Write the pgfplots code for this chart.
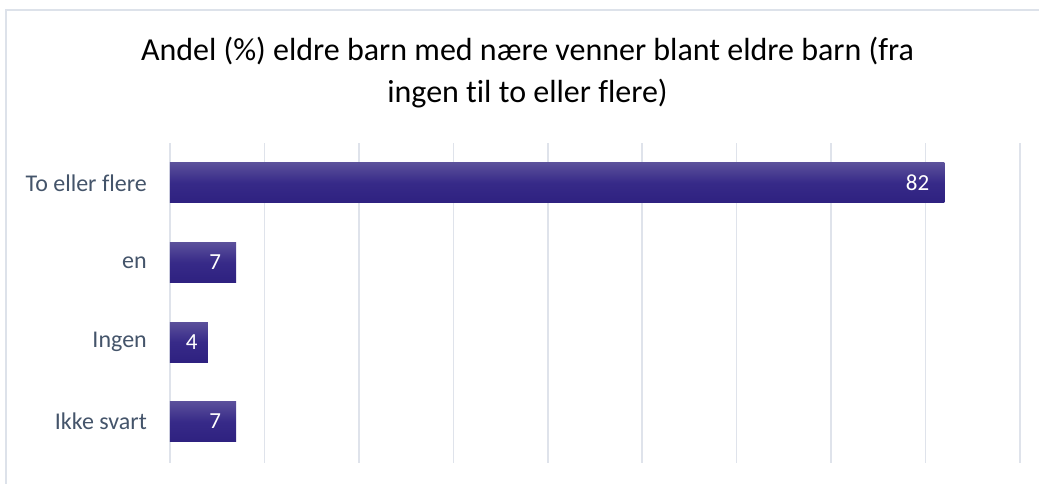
\documentclass[border=0pt]{standalone}
\usepackage{pgfplots}
\pgfplotsset{compat=1.18}
\usepackage{fontspec}
\setmainfont[Ligatures=NoCommon]{Carlito}
\definecolor{barTop}{HTML}{5B509B}
\definecolor{barMid}{HTML}{372A88}
\definecolor{barBot}{HTML}{2E2180}
\definecolor{gridc}{HTML}{DFE3EB}
\definecolor{labc}{HTML}{44546A}
\definecolor{borderc}{HTML}{DDE2EA}
\begin{document}
\begin{tikzpicture}[x=1pt,y=1pt]
\useasboundingbox (0,0) rectangle (1039,483);
\draw[borderc, line width=1.5pt] (6,-10) |- (1060,473);
\node[anchor=base, font=\fontsize{32}{38}\selectfont, text=black, inner sep=0pt] at (527.5,422) {Andel (\%) eldre barn med nære venner blant eldre barn (fra};
\node[anchor=base, font=\fontsize{32}{38}\selectfont, text=black, inner sep=0pt] at (527.5,380) {ingen til to eller flere)};
\begin{axis}[
  at={(170pt,20pt)}, anchor=south west,
  scale only axis,
  width=850pt, height=320pt,
  xmin=0, xmax=90,
  ymin=-0.5, ymax=3.52,
  y dir=reverse,
  xtick={0,10,...,90},
  xticklabels={},
  ytick={0,1,2,3},
  yticklabels={To eller flere, en, Ingen, Ikke svart},
  yticklabel style={inner sep=0pt, anchor=east, xshift=-23pt, text=labc, font=\fontsize{24}{28}\selectfont},
  xmajorgrids,
  grid style={gridc, line width=1.5pt},
  axis line style={draw=none},
  major tick length=0pt,
  clip=false,
  xbar,
  bar width=40pt,
  bar shift=0pt,
  nodes near coords,
  /pgf/number format/assume math mode=true,
  every node near coord/.append style={anchor=east, xshift=-15pt, inner sep=0pt, text=white, font=\fontsize{23}{28}\selectfont},
  every axis plot/.append style={draw=none, top color=barTop, bottom color=barBot, middle color=barMid},
]
\addplot coordinates {(82,0)};
\addplot coordinates {(7,1)};
\addplot[every node near coord/.append style={xshift=5pt}] coordinates {(4,2)};
\addplot coordinates {(7,3)};
\end{axis}
\end{tikzpicture}
\end{document}
